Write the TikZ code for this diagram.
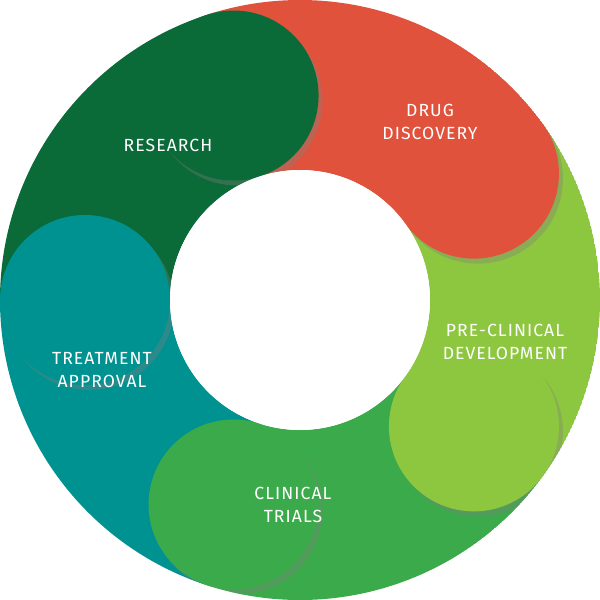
\documentclass[tikz,border=0pt]{standalone}
\usepackage{fontspec}
\setmainfont{Fira Sans}
\usetikzlibrary{shadows}
\definecolor{cres}{HTML}{0A6A38}
\definecolor{cdrug}{HTML}{E0523C}
\definecolor{cpre}{HTML}{8DC63F}
\definecolor{ccli}{HTML}{3BAA4A}
\definecolor{ctre}{HTML}{009290}
\tikzset{lbl/.style={text=white,align=center,font=\fontsize{10}{13}\selectfont\addfontfeature{LetterSpace=6}}}
\begin{document}
\begin{tikzpicture}
\useasboundingbox (-6,-6) rectangle (6,6);
\begin{scope}
\clip (0,0) circle (6);
\foreach \a/\b/\c in {180/108/cres,108/36/cdrug,36/-36/cpre,-36/-108/ccli,-108/-180/ctre}{
  \fill[\c] (\a:6) arc (\a:\b:6) -- (\b:2.6) arc (\b:\a:2.6) -- cycle;
}
\foreach \b/\c in {108/cres,36/cdrug,-36/cpre,-108/ccli,180/ctre}{
  \fill[\c,drop shadow={opacity=0.35,shadow xshift=0.08cm,shadow yshift=-0.1cm}] (\b:4.3) circle (1.7);
}
\end{scope}
\fill[white] (0,0) circle (2.6);
\node[lbl] (r) at (-2.64,3.1) {RESEARCH};
\node[lbl] (d) at (2.6,3.56) {DRUG\\DISCOVERY};
\node[lbl] (p) at (4.1,-0.84) {PRE-CLINICAL\\DEVELOPMENT};
\node[lbl] (c) at (-0.14,-4.1) {CLINICAL\\TRIALS};
\node[lbl] (t) at (-3.96,-1.4) {TREATMENT\\APPROVAL};
\end{tikzpicture}
\end{document}
